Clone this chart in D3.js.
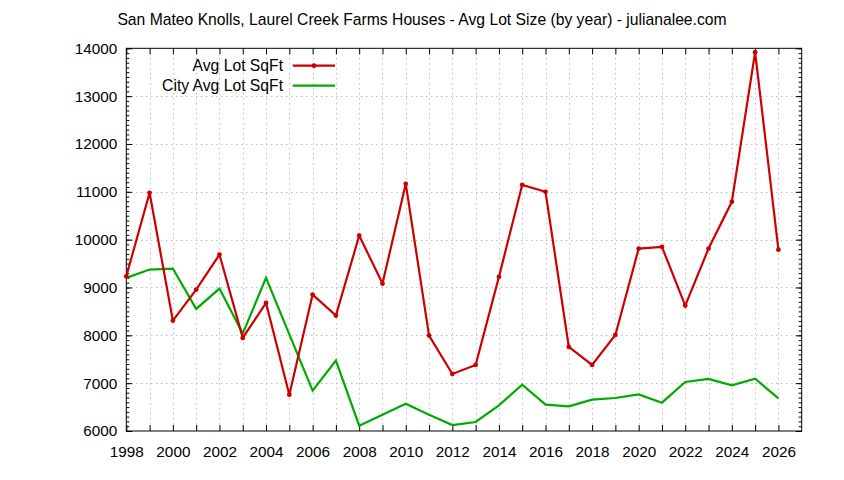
<!DOCTYPE html>
<html>
<head>
<meta charset="utf-8">
<script src="https://cdn.jsdelivr.net/npm/d3@7"></script>
<style>
  body { margin: 0; background: #fff; }
  svg { display: block; }
  text { font-family: "Liberation Sans", Arial, sans-serif; }
</style>
</head>
<body>
<svg></svg>
<script>
  const years = d3.range(1998, 2027);
  // Avg Lot SqFt (red)
  const avgLot = [9234, 10979, 8308, 8956, 9688, 7946, 8678, 6759, 8851, 8412,
                  10086, 9082, 11167, 7994, 7192, 7381, 9222, 11146, 11000, 7757,
                  7381, 8008, 9814, 9849, 8621, 9814, 10791, 13920, 9791];
  // City Avg Lot SqFt (green)
  const cityLot = [9201, 9375, 9396, 8552, 8977, 8036, 9201, 8020, 6843, 7471,
                   6111, 6341, 6571, 6341, 6125, 6188, 6536, 6969, 6550, 6515,
                   6655, 6690, 6766, 6592, 7025, 7088, 6954, 7095, 6682];
  const seriesNames = ["Avg Lot SqFt", "City Avg Lot SqFt"];
  const xLabelYears = d3.range(1998, 2027, 2);
  const yTicks = d3.range(6000, 14001, 1000);
  const yMinor = d3.range(6000, 14001, 100);

  const width = 844,
    height = 480,
    margin = {top: 48.3, right: 42.3, bottom: 49, left: 126.3},
    red = "#cc0000",
    green = "#00aa00";

  const svg = d3.select("svg")
    .attr("width", width)
    .attr("height", height);

  const x = d3.scaleLinear()
    .domain([1998, 2027])
    .range([margin.left, width - margin.right]);

  const y = d3.scaleLinear()
    .domain([6000, 14000])
    .range([height - margin.bottom, margin.top]);

  // grid
  const grid = svg.append("g")
    .attr("stroke", "#a0a0a0")
    .attr("stroke-width", 1)
    .attr("stroke-dasharray", "1,4");

  grid.selectAll(".vg")
    .data(years.slice(1))
    .enter()
    .append("line")
    .attr("x1", d => Math.round(x(d)) + 0.5)
    .attr("x2", d => Math.round(x(d)) + 0.5)
    .attr("y1", y(14000))
    .attr("y2", y(6000));

  grid.selectAll(".hg")
    .data(yTicks.slice(1, -1))
    .enter()
    .append("line")
    .attr("x1", x(1998))
    .attr("x2", x(2027))
    .attr("y1", d => Math.round(y(d)) + 0.5)
    .attr("y2", d => Math.round(y(d)) + 0.5);

  // axes
  function styleAxis(g) {
    g.select(".domain").remove();
    g.selectAll("line").attr("stroke", "#000");
    g.selectAll("text")
      .attr("fill", "#000")
      .style("font-size", "15.3px");
  }

  svg.append("g")
    .attr("transform", `translate(0,${y(6000)})`)
    .call(d3.axisBottom(x)
      .tickValues(years)
      .tickSize(-6)
      .tickPadding(15)
      .tickFormat(d => xLabelYears.includes(d) ? String(d) : ""))
    .call(styleAxis);

  svg.append("g")
    .attr("transform", `translate(0,${y(14000)})`)
    .call(d3.axisTop(x)
      .tickValues(years)
      .tickSize(-6)
      .tickFormat(""))
    .call(styleAxis);

  svg.append("g")
    .attr("transform", `translate(${x(1998)},0)`)
    .call(d3.axisLeft(y)
      .tickValues(yTicks)
      .tickSize(-6)
      .tickPadding(9)
      .tickFormat(d3.format("d")))
    .call(styleAxis);

  svg.append("g")
    .attr("transform", `translate(${x(1998)},0)`)
    .call(d3.axisLeft(y)
      .tickValues(yMinor)
      .tickSize(-3)
      .tickFormat(""))
    .call(styleAxis);

  svg.append("g")
    .attr("transform", `translate(${x(2027)},0)`)
    .call(d3.axisRight(y)
      .tickValues(yTicks)
      .tickSize(-6)
      .tickFormat(""))
    .call(styleAxis);

  svg.append("g")
    .attr("transform", `translate(${x(2027)},0)`)
    .call(d3.axisRight(y)
      .tickValues(yMinor)
      .tickSize(-3)
      .tickFormat(""))
    .call(styleAxis);

  // border
  svg.append("rect")
    .attr("x", x(1998))
    .attr("y", y(14000))
    .attr("width", x(2027) - x(1998))
    .attr("height", y(6000) - y(14000))
    .attr("fill", "none")
    .attr("stroke", "#000")
    .attr("stroke-width", 1);

  // lines
  const line = d3.line()
    .x(d => x(d[0]))
    .y(d => y(d[1]));

  svg.append("path")
    .datum(d3.zip(years, cityLot))
    .attr("d", line)
    .attr("fill", "none")
    .attr("stroke", green)
    .attr("stroke-width", 2.2);

  svg.append("path")
    .datum(d3.zip(years, avgLot))
    .attr("d", line)
    .attr("fill", "none")
    .attr("stroke", red)
    .attr("stroke-width", 2.2);

  svg.selectAll(".pt")
    .data(d3.zip(years, avgLot))
    .enter()
    .append("circle")
    .attr("cx", d => x(d[0]))
    .attr("cy", d => y(d[1]))
    .attr("r", 2.4)
    .attr("fill", red);

  // legend
  const legend = svg.append("g");
  const rows = [
    {name: seriesNames[0], color: red, pts: true, cy: 65.7},
    {name: seriesNames[1], color: green, pts: false, cy: 85.7}
  ];
  rows.forEach(r => {
    legend.append("text")
      .attr("x", 283)
      .attr("y", r.cy)
      .attr("dy", "0.36em")
      .attr("text-anchor", "end")
      .style("font-size", "15.7px")
      .text(r.name);
    legend.append("line")
      .attr("x1", 292.7)
      .attr("x2", 335)
      .attr("y1", r.cy)
      .attr("y2", r.cy)
      .attr("stroke", r.color)
      .attr("stroke-width", 2.2);
    if (r.pts)
      legend.append("circle")
        .attr("cx", 314)
        .attr("cy", r.cy)
        .attr("r", 2.4)
        .attr("fill", r.color);
  });

  // title
  svg.append("text")
    .attr("x", width / 2)
    .attr("y", 25)
    .attr("text-anchor", "middle")
    .style("font-size", "15.7px")
    .text("San Mateo Knolls, Laurel Creek Farms Houses - Avg Lot Size (by year) - julianalee.com");
</script>
</body>
</html>
